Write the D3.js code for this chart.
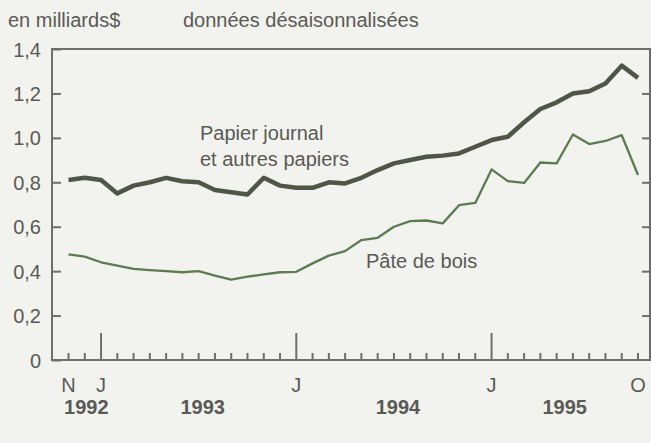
<!DOCTYPE html>
<html>
<head>
<meta charset="utf-8">
<script src="https://cdn.jsdelivr.net/npm/d3@7"></script>
<style>
  body { margin: 0; background: #f2f2ef; }
  svg { display: block; font-family: "Liberation Sans", Arial, sans-serif; }
  .lbl { fill: #5a5a55; font-size: 20px; }
  .axis text { fill: #5a5a55; font-size: 20px; }
  .axis line { stroke: #6e6e6a; stroke-width: 2; }
</style>
</head>
<body>
<div id="chart"></div>
<script>
// months from Nov 1992 to Oct 1995
const months = [
    "1992-11", "1992-12",
    "1993-01", "1993-02", "1993-03", "1993-04", "1993-05", "1993-06",
    "1993-07", "1993-08", "1993-09", "1993-10", "1993-11", "1993-12",
    "1994-01", "1994-02", "1994-03", "1994-04", "1994-05", "1994-06",
    "1994-07", "1994-08", "1994-09", "1994-10", "1994-11", "1994-12",
    "1995-01", "1995-02", "1995-03", "1995-04", "1995-05", "1995-06",
    "1995-07", "1995-08", "1995-09", "1995-10"
];

// Papier journal et autres papiers (milliards $)
const papier = [
    0.81, 0.82, 0.81, 0.75, 0.785, 0.80, 0.82, 0.805, 0.80, 0.765,
    0.755, 0.745, 0.82, 0.785, 0.775, 0.775, 0.80, 0.795, 0.82, 0.855,
    0.885, 0.90, 0.915, 0.92, 0.93, 0.96, 0.99, 1.005, 1.07, 1.13,
    1.16, 1.20, 1.21, 1.245, 1.325, 1.27
];

// Pâte de bois (milliards $)
const pate = [
    0.475, 0.465, 0.44, 0.425, 0.41, 0.405, 0.40, 0.395, 0.40, 0.38,
    0.362, 0.375, 0.385, 0.395, 0.397, 0.435, 0.47, 0.49, 0.54, 0.55,
    0.60, 0.625, 0.628, 0.615, 0.697, 0.707, 0.858, 0.805, 0.797, 0.889,
    0.885, 1.015, 0.972, 0.986, 1.012, 0.833
];

const yTicks = [0, 0.2, 0.4, 0.6, 0.8, 1.0, 1.2, 1.4];
const monthLetters = { "1992-11": "N", "1993-01": "J", "1994-01": "J", "1995-01": "J", "1995-10": "O" };
const years = ["1992", "1993", "1994", "1995"];
const yearAnchors = ["1992-12", "1993-07", "1994-07", "1995-05"];

const W = 651, H = 443;
const frame = { left: 52, right: 650, top: 49, bottom: 360 };

const svg = d3.select("#chart").append("svg")
    .attr("width", W)
    .attr("height", H);

svg.append("rect")
    .attr("width", W).attr("height", H)
    .attr("fill", "#f2f2ef");

const x = d3.scalePoint()
    .domain(months)
    .range([68.5, 638]);

const y = d3.scaleLinear()
    .domain([0, 1.4])
    .range([frame.bottom, frame.top]);

const fmt = d => d === 0 ? "0" : d3.format(".1f")(d).replace(".", ",");

// left axis, ticks pointing inward
svg.append("g")
    .attr("class", "axis")
    .attr("transform", `translate(${frame.left},0)`)
    .call(d3.axisLeft(y).tickValues(yTicks).tickSizeInner(-9).tickSizeOuter(0).tickPadding(11).tickFormat(fmt))
    .call(g => g.select(".domain").remove())
    .call(g => g.selectAll("text").attr("dy", "0.35em"));

// right axis ticks
svg.append("g")
    .attr("class", "axis")
    .attr("transform", `translate(${frame.right},0)`)
    .call(d3.axisRight(y).tickValues(yTicks.filter(d => d > 0 && d < 1.4)).tickSizeInner(-8).tickSizeOuter(0).tickFormat(""))
    .call(g => g.select(".domain").remove());

// monthly ticks (January ones taller)
svg.append("g")
    .attr("class", "axis")
    .selectAll("line")
    .data(months)
    .join("line")
    .attr("x1", d => x(d))
    .attr("x2", d => x(d))
    .attr("y1", frame.bottom)
    .attr("y2", d => frame.bottom - (d.endsWith("-01") ? 27 : 7));

// frame
svg.append("rect")
    .attr("x", frame.left).attr("y", frame.top)
    .attr("width", frame.right - frame.left)
    .attr("height", frame.bottom - frame.top)
    .attr("fill", "none")
    .attr("stroke", "#6e6e6a")
    .attr("stroke-width", 2);

// month letters
svg.append("g").selectAll("text")
    .data(Object.keys(monthLetters))
    .join("text")
    .attr("class", "lbl")
    .attr("x", d => x(d))
    .attr("y", 392)
    .attr("text-anchor", "middle")
    .text(d => monthLetters[d]);

// year labels
svg.append("g").selectAll("text")
    .data(years)
    .join("text")
    .attr("class", "lbl")
    .attr("x", (d, i) => x(yearAnchors[i]) + (i === 0 ? 1.5 : i === 3 ? 8 : 4))
    .attr("y", 414)
    .attr("text-anchor", "middle")
    .attr("font-weight", "bold")
    .text(d => d);

const line = d3.line()
    .x((d, i) => x(months[i]))
    .y(d => y(d));

svg.append("path")
    .datum(pate)
    .attr("fill", "none")
    .attr("stroke", "#5d7b51")
    .attr("stroke-width", 2.3)
    .attr("stroke-linejoin", "round")
    .attr("d", line);

svg.append("path")
    .datum(papier)
    .attr("fill", "none")
    .attr("stroke", "#4e5647")
    .attr("stroke-width", 4.5)
    .attr("stroke-linejoin", "round")
    .attr("d", line);

// titles and series labels
svg.append("text").attr("class", "lbl").attr("x", 8).attr("y", 27).text("en milliards$");
svg.append("text").attr("class", "lbl").attr("x", 183).attr("y", 27).text("données désaisonnalisées");
svg.append("text").attr("class", "lbl").attr("x", 200).attr("y", 140).text("Papier journal");
svg.append("text").attr("class", "lbl").attr("x", 200).attr("y", 166).text("et autres papiers");
svg.append("text").attr("class", "lbl").attr("x", 366).attr("y", 268).text("Pâte de bois");
</script>
</body>
</html>
